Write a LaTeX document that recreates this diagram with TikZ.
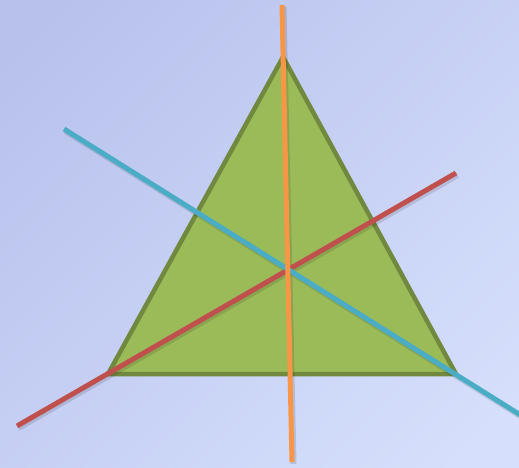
\documentclass[tikz,border=0pt]{standalone}
\begin{document}
\begin{tikzpicture}[x=1pt,y=-1pt,
  tri/.style={fill=trifill,draw=triedge,line width=4.5pt,line join=miter},
  seg/.style={line width=5pt},
  segshadow/.style={line width=6pt,draw=black,opacity=0.12}]
\definecolor{trifill}{HTML}{9BBB59}
\definecolor{triedge}{HTML}{71893F}
\definecolor{orangeln}{HTML}{F79646}
\definecolor{blueln}{HTML}{4BACC6}
\definecolor{redln}{HTML}{C0504D}
\definecolor{bgdark}{RGB}{184,193,236}
\definecolor{bglight}{RGB}{214,224,252}
\useasboundingbox (0,0) rectangle (519,468);
\shade[shading=axis,left color=bgdark,right color=bglight,shading angle=45] (-60,-60) rectangle (579,528);
% vertices
\coordinate (A) at (283,57);
\coordinate (B) at (108,374);
\coordinate (C) at (456,374);
% line endpoints
\coordinate (o1) at (282,5);
\coordinate (o2) at (292,462);
\coordinate (b1) at (64,129);
\coordinate (b2) at (522,416);
\coordinate (r1) at (17,426);
\coordinate (r2) at (456,173);
\draw[tri] (A) -- (B) -- (C) -- cycle;
\draw[segshadow] ([shift={(1.5,2)}]r1) -- ([shift={(1.5,2)}]r2);
\draw[segshadow] ([shift={(1.5,2)}]b1) -- ([shift={(1.5,2)}]b2);
\draw[segshadow] ([shift={(1.5,2)}]o1) -- ([shift={(1.5,2)}]o2);
\draw[seg,redln] (r1) -- (r2);
\draw[seg,blueln] (b1) -- (b2);
\draw[seg,orangeln] (o1) -- (o2);
\end{tikzpicture}
\end{document}
